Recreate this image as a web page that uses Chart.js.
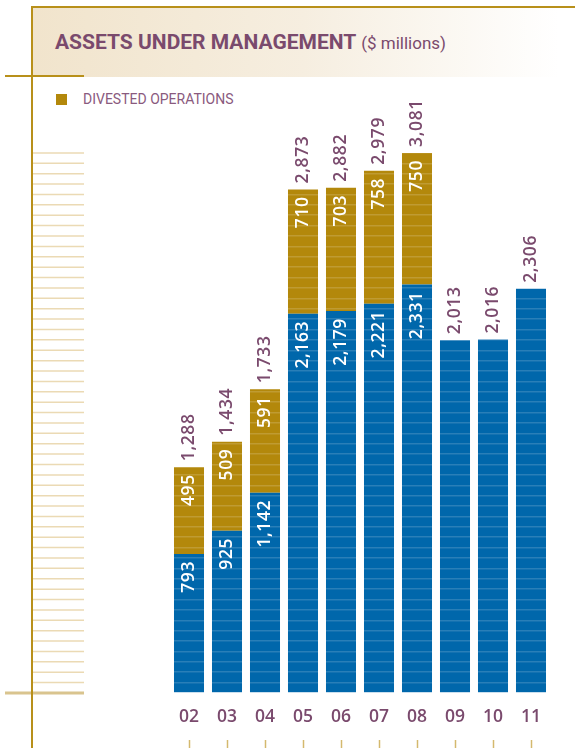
<!DOCTYPE html>
<html>
<head>
<meta charset="utf-8">
<script src="https://cdn.jsdelivr.net/npm/chart.js@4.4.1/dist/chart.umd.min.js"></script>
<style>
  html, body { margin: 0; padding: 0; background: #fff; }
  body { width: 575px; height: 748px; position: relative; overflow: hidden; }
  #band {
    position: absolute; left: 33px; top: 7px; width: 542px; height: 70px;
    background: linear-gradient(to right, #f1e4cc 0%, #f6eee0 50%, #ffffff 97%);
  }
  #title {
    position: absolute; left: 55px; top: 30px; white-space: nowrap;
    font-family: Roboto, sans-serif; color: #7a4a6d;
  }
  #title b { font-size: 21px; font-weight: 700; }
  #title span { font-size: 17px; font-weight: 400; margin-left: 1px; }
  #legend {
    position: absolute; left: 56px; top: 91px; white-space: nowrap;
    font-family: Roboto, sans-serif; font-size: 14px; color: #8a5a7e;
  }
  #legend i { display: inline-block; width: 11px; height: 11px; margin-right: 16px; vertical-align: -1px; }
  #aumChart { position: absolute; left: 0; top: 0; }
  .rule { position: absolute; background: #b8901a; }
</style>
</head>
<body>
<div id="band"></div>
<div id="title"><b>ASSETS UNDER MANAGEMENT</b> <span>($ millions)</span></div>
<div id="legend"></div>
<canvas id="aumChart" width="575" height="748"></canvas>
<div class="rule" style="left:32px; top:6px; width:543px; height:2px;"></div>
<div class="rule" style="left:31px; top:6px; width:2px; height:742px;"></div>
<div class="rule" style="left:5px; top:75px; width:79px; height:2px;"></div>
<script>
// valores en millones de dolares por año
const years = ['02', '03', '04', '05', '06', '07', '08', '09', '10', '11'];
const continuingOps = [793, 925, 1142, 2163, 2179, 2221, 2331, 2013, 2016, 2306];
const divestedOps = [495, 509, 591, 710, 703, 758, 750, null, null, null];

const colors = {
    blue: '#0067ab',
    gold: '#b3880b',
    purple: '#7a4a6d',
    stripe: '#ebdab4',
    baseline: '#d9c48e',
    tick: '#d4b96e'
};

const totals = years.map((y, i) => continuingOps[i] + (divestedOps[i] || 0));
const peakTotal = Math.max(...totals);
const stripeCount = 52;

function fmt(n) {
    return n.toLocaleString('en-US');
}

//texto vertical (de abajo hacia arriba)
function drawUp(ctx, text, x, y, align, color) {
    ctx.save();
    ctx.translate(x, y);
    ctx.rotate(-Math.PI / 2);
    ctx.textAlign = align;
    ctx.fillStyle = color;
    ctx.fillText(text, 0, 0);
    ctx.restore();
}

const barLabels = {
    id: 'barLabels',
    afterDraw(chart) {
        const ctx = chart.ctx;
        const blueMeta = chart.getDatasetMeta(0);
        const goldMeta = chart.getDatasetMeta(1);
        ctx.save();
        ctx.font = '600 17.5px "Open Sans"';
        ctx.letterSpacing = '0.6px';
        ctx.textBaseline = 'middle';
        years.forEach((yr, i) => {
            const blueBar = blueMeta.data[i];
            const hasGold = divestedOps[i] != null;
            let top = blueBar.y;
            if (hasGold) {
                const goldBar = goldMeta.data[i];
                drawUp(ctx, fmt(continuingOps[i]), blueBar.x + 0.5, blueBar.y + 7, 'right', '#fff');
                drawUp(ctx, fmt(divestedOps[i]), goldBar.x + 0.5, goldBar.y + 7, 'right', '#fff');
                top = goldBar.y;
            }
            drawUp(ctx, fmt(totals[i]), blueBar.x + 0.5, top - 6, 'left', colors.purple);
        });
        ctx.restore();
    }
};

//rayas de la izquierda y marcas bajo los años
const sideStripes = {
    id: 'sideStripes',
    afterDraw(chart) {
        const ctx = chart.ctx;
        const yScale = chart.scales.y;
        const xScale = chart.scales.x;
        ctx.save();
        yScale.ticks.forEach(t => {
            const py = yScale.getPixelForValue(t.value);
            ctx.beginPath();
            if (t.value === 0) {
                ctx.strokeStyle = colors.baseline;
                ctx.lineWidth = 3;
                ctx.moveTo(5, py);
            } else {
                ctx.strokeStyle = colors.stripe;
                ctx.lineWidth = 1.5;
                ctx.moveTo(33, py);
            }
            ctx.lineTo(84, py);
            ctx.stroke();
        });
        ctx.strokeStyle = colors.tick;
        ctx.lineWidth = 1.5;
        xScale.ticks.forEach((t, i) => {
            const px = Math.round(xScale.getPixelForTick(i)) + 0.5;
            ctx.beginPath();
            ctx.moveTo(px, chart.chartArea.bottom + 47);
            ctx.lineTo(px, chart.height);
            ctx.stroke();
        });
        ctx.restore();
    }
};

const chartData = {
    labels: years,
    datasets: [
        {
            label: 'Continuing Operations',
            data: continuingOps,
            backgroundColor: colors.blue
        },
        {
            label: 'Divested Operations',
            data: divestedOps,
            backgroundColor: colors.gold
        }
    ]
};

const options = {
    responsive: false,
    animation: false,
    layout: {
        padding: { top: 97, right: 25, bottom: 0, left: 0 }
    },
    datasets: {
        bar: {
            barPercentage: 0.79,
            categoryPercentage: 1,
            borderWidth: 0
        }
    },
    scales: {
        x: {
            stacked: true,
            grid: { display: false, drawTicks: false },
            border: { display: false },
            ticks: {
                color: colors.purple,
                padding: 14,
                font: { family: 'Open Sans', size: 17.5, weight: '600' }
            },
            afterFit: scale => { scale.height = 55; }
        },
        y: {
            stacked: true,
            min: 0,
            max: 3400,
            ticks: { display: false },
            border: { display: false },
            grid: {
                z: 1,
                drawTicks: false,
                lineWidth: 1.5,
                color: 'rgba(255, 255, 255, 0.16)'
            },
            afterBuildTicks: scale => {
                const ticks = [];
                for (let i = 0; i <= stripeCount; i++) {
                    ticks.push({ value: peakTotal * i / stripeCount });
                }
                scale.ticks = ticks;
            },
            afterFit: scale => { scale.width = 170; }
        }
    },
    plugins: {
        legend: { display: false },
        tooltip: { enabled: false }
    }
};

const chart = new Chart(document.getElementById('aumChart'), {
    type: 'bar',
    data: chartData,
    options: options,
    plugins: [barLabels, sideStripes]
});

// leyenda solo con operaciones desinvertidas
const legendEl = document.getElementById('legend');
const divested = chart.data.datasets[1];
legendEl.innerHTML = `<i style="background:${divested.backgroundColor}"></i>${divested.label.toUpperCase()}`;
</script>
</body>
</html>
